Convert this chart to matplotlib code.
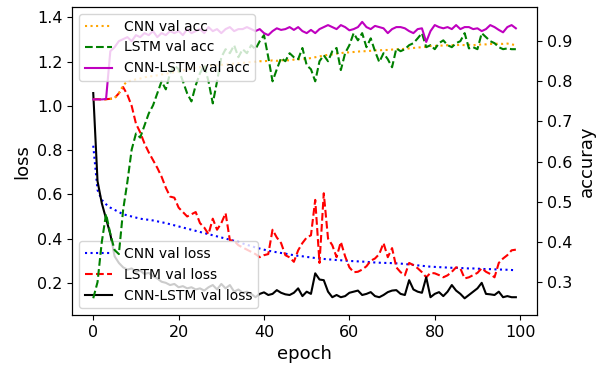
import numpy as np
import matplotlib
matplotlib.use("Agg")
import matplotlib.pyplot as plt

epochs = np.arange(100)

# validation loss (left axis)
cnn_val_loss = [0.82, 0.62, 0.575, 0.555, 0.54, 0.53, 0.52, 0.51, 0.505, 0.50,
                0.495, 0.49, 0.487, 0.485, 0.482, 0.478, 0.474, 0.47, 0.465, 0.46,
                0.455, 0.45, 0.445, 0.44, 0.435, 0.43, 0.425, 0.42, 0.415, 0.41,
                0.405, 0.40, 0.395, 0.39, 0.385, 0.378, 0.372, 0.366, 0.36, 0.355,
                0.35, 0.345, 0.342, 0.338, 0.335, 0.332, 0.328, 0.325, 0.322, 0.32,
                0.317, 0.315, 0.312, 0.31, 0.308, 0.306, 0.305, 0.303, 0.302, 0.30,
                0.299, 0.298, 0.297, 0.296, 0.295, 0.293, 0.292, 0.291, 0.29, 0.29,
                0.289, 0.288, 0.287, 0.285, 0.283, 0.281, 0.279, 0.277, 0.275, 0.273,
                0.272, 0.271, 0.27, 0.269, 0.268, 0.268, 0.267, 0.266, 0.265, 0.265,
                0.264, 0.263, 0.262, 0.262, 0.261, 0.26, 0.26, 0.259, 0.258, 0.257]

lstm_val_loss = [1.03, 1.03, 1.03, 1.03, 1.032, 1.035, 1.057, 1.085, 1.05, 1.0,
                 0.92, 0.88, 0.83, 0.79, 0.755, 0.72, 0.68, 0.63, 0.59, 0.585,
                 0.54, 0.52, 0.50, 0.51, 0.52, 0.47, 0.45, 0.42, 0.49, 0.44,
                 0.47, 0.515, 0.393, 0.39, 0.37, 0.36, 0.35, 0.34, 0.33, 0.316,
                 0.325, 0.33, 0.44, 0.405, 0.38, 0.325, 0.315, 0.295, 0.347, 0.38,
                 0.405, 0.415, 0.575, 0.29, 0.605, 0.40, 0.37, 0.316, 0.385, 0.32,
                 0.27, 0.248, 0.25, 0.26, 0.275, 0.30, 0.31, 0.33, 0.38, 0.316,
                 0.357, 0.27, 0.248, 0.234, 0.29, 0.28, 0.266, 0.248, 0.225, 0.245,
                 0.243, 0.235, 0.225, 0.234, 0.25, 0.27, 0.265, 0.22, 0.225, 0.235,
                 0.245, 0.266, 0.25, 0.24, 0.225, 0.29, 0.31, 0.325, 0.347, 0.35]

cnn_lstm_val_loss = [1.058, 0.66, 0.56, 0.49, 0.42, 0.32, 0.29, 0.27, 0.26, 0.265,
                     0.25, 0.255, 0.24, 0.245, 0.23, 0.22, 0.205, 0.20, 0.19, 0.195,
                     0.18, 0.185, 0.175, 0.18, 0.17, 0.175, 0.165, 0.18, 0.19, 0.17,
                     0.195, 0.175, 0.19, 0.16, 0.17, 0.155, 0.16, 0.15, 0.135, 0.15,
                     0.157, 0.145, 0.15, 0.167, 0.155, 0.148, 0.145, 0.155, 0.175, 0.14,
                     0.16, 0.15, 0.243, 0.215, 0.212, 0.16, 0.135, 0.145, 0.135, 0.14,
                     0.155, 0.16, 0.165, 0.145, 0.15, 0.158, 0.14, 0.135, 0.145, 0.158,
                     0.165, 0.167, 0.15, 0.145, 0.212, 0.17, 0.16, 0.155, 0.225, 0.135,
                     0.15, 0.158, 0.14, 0.16, 0.19, 0.165, 0.15, 0.13, 0.145, 0.16,
                     0.175, 0.2, 0.15, 0.148, 0.145, 0.16, 0.135, 0.14, 0.135, 0.135]

# validation accuracy (right axis)
cnn_val_acc = [0.755, 0.755, 0.755, 0.755, 0.756, 0.758, 0.77, 0.79, 0.80, 0.802,
               0.805, 0.807, 0.81, 0.812, 0.813, 0.815, 0.817, 0.819, 0.821, 0.823,
               0.825, 0.827, 0.829, 0.831, 0.833, 0.835, 0.836, 0.838, 0.84, 0.84,
               0.841, 0.842, 0.843, 0.844, 0.845, 0.846, 0.847, 0.848, 0.849, 0.85,
               0.85, 0.851, 0.852, 0.851, 0.852, 0.853, 0.852, 0.854, 0.855, 0.855,
               0.856, 0.858, 0.86, 0.862, 0.864, 0.866, 0.867, 0.869, 0.87, 0.872,
               0.872, 0.873, 0.874, 0.875, 0.875, 0.876, 0.877, 0.877, 0.878, 0.878,
               0.879, 0.88, 0.88, 0.881, 0.882, 0.883, 0.884, 0.885, 0.886, 0.888,
               0.888, 0.889, 0.889, 0.89, 0.89, 0.89, 0.891, 0.89, 0.891, 0.89,
               0.891, 0.892, 0.892, 0.893, 0.893, 0.894, 0.893, 0.894, 0.892, 0.89]

lstm_val_acc = [0.26, 0.30, 0.40, 0.47, 0.42, 0.38, 0.37, 0.48, 0.55, 0.63,
                0.67, 0.66, 0.69, 0.72, 0.74, 0.77, 0.80, 0.78, 0.82, 0.84,
                0.83, 0.80, 0.77, 0.75, 0.79, 0.82, 0.84, 0.80, 0.745, 0.80,
                0.86, 0.88, 0.87, 0.89, 0.86, 0.88, 0.87, 0.89, 0.88, 0.90,
                0.915, 0.86, 0.80, 0.83, 0.858, 0.85, 0.87, 0.86, 0.855, 0.883,
                0.84, 0.83, 0.80, 0.85, 0.865, 0.85, 0.875, 0.883, 0.828, 0.87,
                0.89, 0.92, 0.902, 0.92, 0.885, 0.907, 0.875, 0.848, 0.87, 0.855,
                0.835, 0.882, 0.875, 0.88, 0.89, 0.895, 0.907, 0.92, 0.885, 0.89,
                0.88, 0.895, 0.902, 0.89, 0.885, 0.895, 0.90, 0.92, 0.882, 0.885,
                0.88, 0.92, 0.91, 0.90, 0.895, 0.885, 0.88, 0.882, 0.88, 0.88]

cnn_lstm_val_acc = [0.755, 0.755, 0.755, 0.756, 0.875, 0.885, 0.90, 0.905, 0.91, 0.90,
                    0.915, 0.91, 0.92, 0.915, 0.925, 0.91, 0.92, 0.915, 0.925, 0.92,
                    0.925, 0.915, 0.93, 0.92, 0.925, 0.93, 0.92, 0.935, 0.925, 0.93,
                    0.92, 0.93, 0.935, 0.925, 0.93, 0.93, 0.935, 0.93, 0.925, 0.93,
                    0.92, 0.915, 0.925, 0.932, 0.928, 0.93, 0.935, 0.928, 0.935, 0.925,
                    0.92, 0.928, 0.92, 0.93, 0.935, 0.94, 0.935, 0.93, 0.94, 0.935,
                    0.927, 0.93, 0.935, 0.948, 0.935, 0.93, 0.938, 0.935, 0.932, 0.92,
                    0.93, 0.935, 0.935, 0.932, 0.925, 0.92, 0.93, 0.932, 0.898, 0.925,
                    0.94, 0.935, 0.932, 0.935, 0.93, 0.94, 0.93, 0.935, 0.935, 0.93,
                    0.932, 0.925, 0.93, 0.94, 0.935, 0.928, 0.922, 0.935, 0.94, 0.932]

fig, ax1 = plt.subplots(figsize=(6.01, 3.69), dpi=100)
fig.subplots_adjust(left=0.12, right=0.8935, bottom=0.146, top=0.981)

ax1.plot(epochs, cnn_val_loss, "b:", label="CNN val loss")
ax1.plot(epochs, lstm_val_loss, "r--", label="LSTM val loss")
ax1.plot(epochs, cnn_lstm_val_loss, "k-", label="CNN-LSTM val loss")
ax1.set_xlabel("epoch", fontsize=13)
ax1.set_ylabel("loss", fontsize=13)
ax1.set_xlim(-4.95, 103.95)
ax1.set_ylim(0.054, 1.447)
ax1.set_xticks([0, 20, 40, 60, 80, 100])
ax1.set_yticks([0.2, 0.4, 0.6, 0.8, 1.0, 1.2, 1.4])
ax1.tick_params(labelsize=11.5)
ax1.legend(loc="lower left", fontsize=10)

ax2 = ax1.twinx()
ax2.plot(epochs, cnn_val_acc, color="orange", linestyle=":", label="CNN val acc")
ax2.plot(epochs, lstm_val_acc, "g--", label="LSTM val acc")
ax2.plot(epochs, cnn_lstm_val_acc, "m-", label="CNN-LSTM val acc")
ax2.set_ylabel("accuray", fontsize=13)
ax2.set_ylim(0.218, 0.985)
ax2.set_yticks([0.3, 0.4, 0.5, 0.6, 0.7, 0.8, 0.9])
ax2.tick_params(labelsize=11.5)
ax2.legend(loc="upper left", fontsize=10)

fig.savefig("out.png", dpi=100)
